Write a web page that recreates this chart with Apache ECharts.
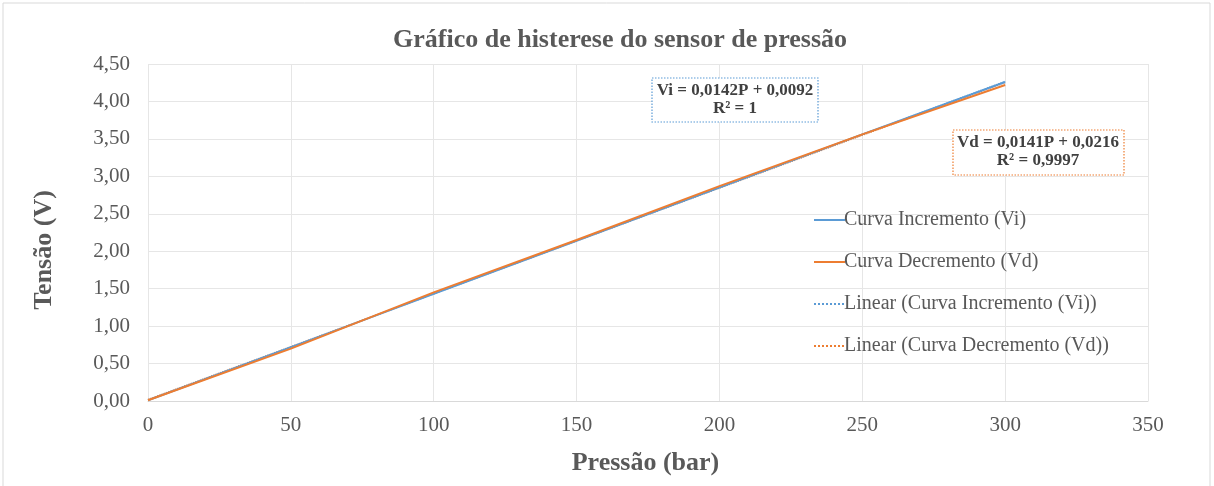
<!DOCTYPE html>
<html><head><meta charset="utf-8">
<script src="https://cdn.jsdelivr.net/npm/echarts@6/dist/echarts.min.js"></script>
<style>html,body{margin:0;padding:0;background:#fff}#c{width:1214px;height:486px}</style>
</head><body><div id="c"></div>
<script>
const pressure = [0, 50, 100, 150, 200, 250, 300];
const vi = [0.01, 0.72, 1.43, 2.14, 2.85, 3.56, 4.26];
const vd = [0.01, 0.70, 1.45, 2.15, 2.87, 3.56, 4.22];
const trendP = [0, 300];
const trendVi = [0.0092, 4.2692];
const trendVd = [0.0216, 4.2516];
const names = ['Curva Incremento (Vi)', 'Curva Decremento (Vd)', 'Linear (Curva Incremento (Vi))', 'Linear (Curva Decremento (Vd))'];
const eqVi = ['Vi = 0,0142P + 0,0092', 'R² = 1'];
const eqVd = ['Vd = 0,0141P + 0,0216', 'R² = 0,9997'];
const yName = 'Tensão (V)';

const pair = (xs, ys) => xs.map((x, i) => [x, ys[i]]);
const font = 'Liberation Serif, Times New Roman, serif';
const blue = '#5B9BD5', orange = '#ED7D31', gray = '#595959';
const chart = echarts.init(document.getElementById('c'));
chart.setOption({
  animation: false,
  textStyle: { fontFamily: font },
  title: { text: 'Gráfico de histerese do sensor de pressão', left: 388, top: 22,
    textStyle: { fontFamily: font, fontSize: 26, fontWeight: 'bold', color: gray } },
  grid: { left: 148, right: 66, top: 64, bottom: 85 },
  legend: { orient: 'vertical', left: 808, top: 205, itemGap: 22, itemWidth: 31, itemHeight: 14,
    itemStyle: { opacity: 0 },
    data: names, textStyle: { fontFamily: font, fontSize: 20, color: gray, padding: [0, 0, 0, -6] } },
  xAxis: { type: 'value', min: 0, max: 350, interval: 50,
    name: 'Pressão (bar)', nameLocation: 'middle', nameGap: 49,
    nameTextStyle: { fontFamily: font, fontSize: 26, fontWeight: 'bold', color: gray, padding: [0, 5, 0, 0] },
    axisLine: { show: true, lineStyle: { color: '#d9d9d9' } }, axisTick: { show: false },
    axisLabel: { fontFamily: font, fontSize: 21, color: gray, margin: 14 },
    splitLine: { show: true, lineStyle: { color: '#e6e6e6' } } },
  yAxis: { type: 'value', min: 0, max: 4.5, interval: 0.5,
    axisLine: { show: false }, axisTick: { show: false },
    axisLabel: { fontFamily: font, fontSize: 21, color: gray, margin: 18,
      formatter: v => v.toFixed(2).replace('.', ',') },
    splitLine: { show: true, lineStyle: { color: '#e6e6e6' } } },
  series: [
    { name: names[2], type: 'line', data: pair(trendP, trendVi), symbol: 'none',
      lineStyle: { color: blue, width: 1.2, type: 'dotted' }, itemStyle: { color: blue }, z: 1 },
    { name: names[3], type: 'line', data: pair(trendP, trendVd), symbol: 'none',
      lineStyle: { color: orange, width: 1.2, type: 'dotted' }, itemStyle: { color: orange }, z: 1 },
    { name: names[0], type: 'line', data: pair(pressure, vi), symbol: 'none',
      lineStyle: { color: blue, width: 2 }, itemStyle: { color: blue }, z: 3 },
    { name: names[1], type: 'line', data: pair(pressure, vd), symbol: 'none',
      lineStyle: { color: orange, width: 2 }, itemStyle: { color: orange }, z: 4 }
  ],
  graphic: [
    { type: 'rect', shape: { x: 3, y: 3, width: 1207, height: 500 }, silent: true, z: -10,
      style: { fill: 'none', stroke: '#d9d9d9', lineWidth: 1 } },
    { type: 'text', x: 44, y: 250, rotation: Math.PI / 2, z: 50,
      style: { text: yName, font: 'bold 26px ' + font, fill: gray, align: 'center', verticalAlign: 'middle' } },
    { type: 'rect', shape: { x: 652, y: 78, width: 166, height: 44 }, z: 100,
      style: { fill: '#fff', stroke: blue, lineWidth: 1.2, lineDash: [1.5, 1.5] } },
    { type: 'text', x: 735, y: 100, z: 101,
      style: { text: eqVi.join('\n'), font: 'bold 17px ' + font, fill: '#404040', align: 'center', verticalAlign: 'middle', lineHeight: 18 } },
    { type: 'rect', shape: { x: 953, y: 130, width: 171, height: 45 }, z: 100,
      style: { fill: '#fff', stroke: orange, lineWidth: 1.2, lineDash: [1.5, 1.5] } },
    { type: 'text', x: 1038, y: 152, z: 101,
      style: { text: eqVd.join('\n'), font: 'bold 17px ' + font, fill: '#404040', align: 'center', verticalAlign: 'middle', lineHeight: 18 } }
  ]
});
</script></body></html>
